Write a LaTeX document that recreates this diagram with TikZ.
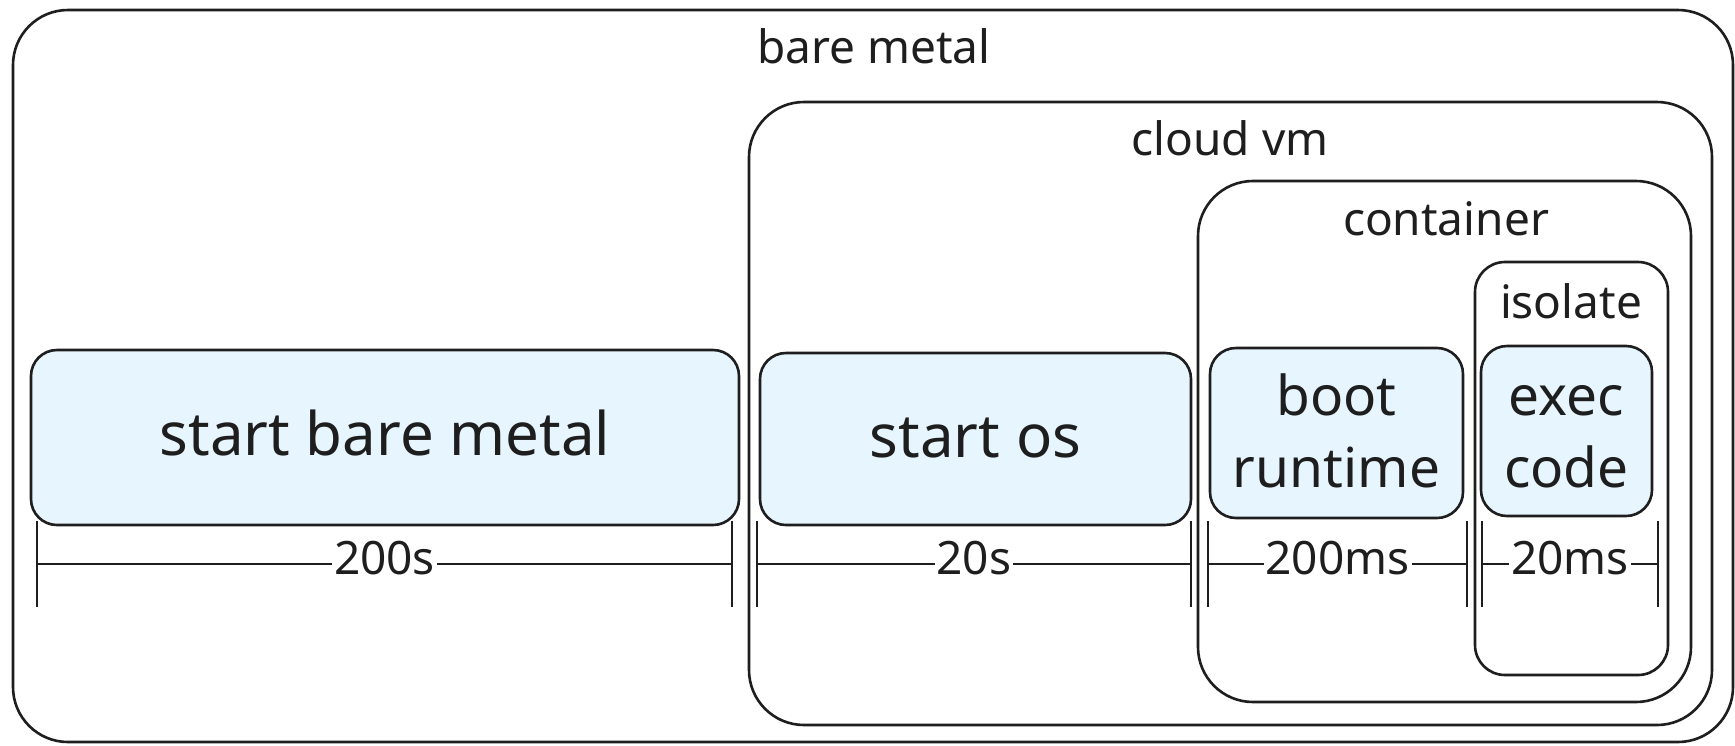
\documentclass[tikz,border=0pt]{standalone}
\usepackage{fontspec}
\setmainfont{Noto Sans}
\usetikzlibrary{fit,calc}
\definecolor{ink}{HTML}{1E1E1E}
\definecolor{paleblue}{HTML}{E7F5FF}
\begin{document}
\begin{tikzpicture}[x=1pt,y=-1pt,
  frame/.style={draw=ink, line width=2.6pt, inner sep=0pt},
  bigbox/.style={frame, rounded corners=55pt},
  smallbox/.style={frame, rounded corners=30pt},
  taskbox/.style={frame, fill=paleblue, rounded corners=26pt},
  tasktext/.style={text=ink, anchor=base, inner sep=0pt, align=center, font=\fontsize{60}{72}\selectfont},
  narrowtext/.style={tasktext, font=\fontsize{55}{72}\selectfont},
  boxlabel/.style={font=\fontsize{46}{55}\selectfont, text=ink, anchor=base, inner sep=0pt},
  dimline/.style={draw=ink, line width=2.4pt},
  dimlabel/.style={fill=white, font=\fontsize{46}{55}\selectfont, text=ink, inner sep=2pt, yshift=6pt}]
\fill[white] (0,0) rectangle (1735,745);
\useasboundingbox (0,0) rectangle (1735,745);

% nested environments
\node[bigbox, fit={(13,10) (1733,742)}] (baremetal) {};
\node[bigbox, fit={(749,102) (1712,725)}] (cloudvm) {};
\node[bigbox, fit={(1198,181) (1691,702)}] (container) {};
\node[smallbox, fit={(1475,262) (1668,675)}] (isolate) {};

\node[boxlabel] (lbare) at (874,63) {bare metal};
\node[boxlabel] (lcloud) at (1230,155) {cloud vm};
\node[boxlabel] (lcont) at (1446,235) {container};
\node[boxlabel] (liso) at (1571,318) {isolate};

% tasks
\node[taskbox, fit={(31,350) (739,525)}] (sbm) {};
\node[taskbox, fit={(760,353) (1191,525)}] (sos) {};
\node[taskbox, fit={(1210,348) (1463,518)}] (boot) {};
\node[taskbox, fit={(1481,346) (1652,516)}] (exec) {};

\node[tasktext] (tsbm) at (sbm.center |- 0,455) {start bare metal};
\node[tasktext] (tsos) at (sos.center |- 0,457) {start os};
\node[narrowtext] (tboot) at (boot.center |- 0,487) {boot\\runtime};
\node[narrowtext] (texec) at (exec.center |- 0,487) {exec\\code};

% dimension lines
\coordinate (d1a) at (37,564);   \coordinate (d1b) at (732,564);
\coordinate (d2a) at (757,564);  \coordinate (d2b) at (1191,564);
\coordinate (d3a) at (1208,564); \coordinate (d3b) at (1467,564);
\coordinate (d4a) at (1482,564); \coordinate (d4b) at (1658,564);

\foreach \d in {1,2,3,4}{
  \draw[dimline] (d\d a) -- (d\d b);
  \draw[dimline] (d\d a) ++(0,-43) -- ++(0,86);
  \draw[dimline] (d\d b) ++(0,-43) -- ++(0,86);
}
\node[dimlabel] (t1) at ($(d1a)!0.5!(d1b)$) {200s};
\node[dimlabel] (t2) at ($(d2a)!0.5!(d2b)$) {20s};
\node[dimlabel] (t3) at ($(d3a)!0.5!(d3b)$) {200ms};
\node[dimlabel] (t4) at ($(d4a)!0.5!(d4b)$) {20ms};
\end{tikzpicture}
\end{document}
